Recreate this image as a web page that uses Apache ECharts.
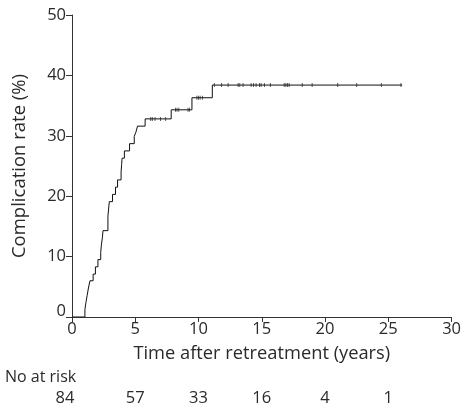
<!DOCTYPE html>
<html>
<head>
<meta charset="utf-8">
<script src="https://cdn.jsdelivr.net/npm/echarts@6/dist/echarts.min.js"></script>
<style>html,body{margin:0;padding:0;background:#fff}#c{width:464px;height:407px}</style>
</head>
<body>
<div id="c"></div>
<script>
// Event times (years) and cumulative complication rate (%) after each event
const eventTimes = [0, 1.02, 1.10, 1.20, 1.30, 1.42, 1.67, 1.85, 2.05, 2.27, 2.32, 2.40, 2.45, 2.84, 2.95, 3.20, 3.44, 3.60, 3.88, 3.92, 3.96, 4.14, 4.55, 4.92, 5.05, 5.18, 5.78, 7.84, 9.48, 11.09, 26.1];
const eventRates = [0, 1.2, 2.4, 3.6, 4.8, 6.0, 7.1, 8.3, 9.5, 10.7, 11.9, 13.1, 14.3, 16.7, 19.1, 20.3, 21.5, 22.7, 24.0, 25.2, 26.3, 27.5, 28.7, 29.9, 30.6, 31.6, 32.8, 34.3, 36.3, 38.4, 38.4];
// Censored observations
const censorTimes = [6.22, 6.35, 6.56, 7.0, 7.4, 8.18, 8.3, 8.44, 9.17, 9.28, 9.87, 10.0, 10.13, 10.31, 11.25, 11.82, 12.34, 13.13, 13.26, 13.52, 14.16, 14.35, 14.55, 14.82, 14.95, 15.21, 15.68, 16.77, 16.9, 17.03, 17.16, 18.2, 18.98, 21.0, 22.5, 24.45, 26.0];
const riskTimes = [0, 5, 10, 15, 20, 25];
const riskCounts = [84, 57, 33, 16, 4, 1];

function rateAt(t) {
  let v = 0;
  for (let i = 0; i < eventTimes.length; i++) { if (eventTimes[i] <= t) v = eventRates[i]; }
  return v;
}

const FONT = 'Open Sans';
const TXT = '#2a2a2a';
const chart = echarts.init(document.getElementById('c'));
chart.setOption({
  animation: false,
  backgroundColor: '#fff',
  grid: { left: 72, right: 8, top: 15, bottom: 90, containLabel: false },
  xAxis: {
    type: 'value', min: 0, max: 30, interval: 5,
    name: 'Time after retreatment (years)', nameLocation: 'middle', nameGap: 28,
    nameTextStyle: { fontFamily: FONT, fontSize: 18.3, color: TXT },
    axisLine: { lineStyle: { color: '#333', width: 1 } },
    axisTick: { length: 5, lineStyle: { color: '#333' } },
    axisLabel: { fontFamily: FONT, fontSize: 16.5, color: TXT, margin: 4 },
    splitLine: { show: false }
  },
  yAxis: {
    type: 'value', min: 0, max: 50, interval: 10,
    name: 'Complication rate (%)', nameLocation: 'middle', nameGap: 43,
    nameTextStyle: { fontFamily: FONT, fontSize: 18.5, color: TXT },
    axisLine: { show: true, lineStyle: { color: '#333', width: 1 } },
    axisTick: { show: true, length: 6, lineStyle: { color: '#333' } },
    axisLabel: {
      fontFamily: FONT, fontSize: 16.5, color: TXT, margin: 6,
      formatter: v => v === 0 ? '{z|0}' : String(v),
      rich: { z: { fontFamily: FONT, fontSize: 16.5, color: TXT, padding: [0, 0, 12, 0] } }
    },
    splitLine: { show: false }
  },
  series: [
    {
      type: 'line', step: 'end', showSymbol: false,
      data: eventTimes.map((t, i) => [t, eventRates[i]]),
      lineStyle: { color: '#111', width: 1 }
    },
    {
      type: 'scatter', symbol: 'rect', symbolSize: [1, 4],
      data: censorTimes.map(t => [t, rateAt(t)]),
      itemStyle: { color: '#333' }
    }
  ]
});

const gElems = [{
  type: 'text', left: 5, top: 369,
  style: { text: 'No at risk', font: '16px ' + FONT, fill: TXT }
}];
riskTimes.forEach((t, i) => {
  const px = chart.convertToPixel({ xAxisIndex: 0 }, t);
  gElems.push({
    type: 'text', x: px - (i === 0 ? 7 : 0), y: 398,
    style: { text: String(riskCounts[i]), font: '16.5px ' + FONT, fill: TXT, align: 'center', verticalAlign: 'middle' }
  });
});
chart.setOption({ graphic: gElems });
</script>
</body>
</html>
